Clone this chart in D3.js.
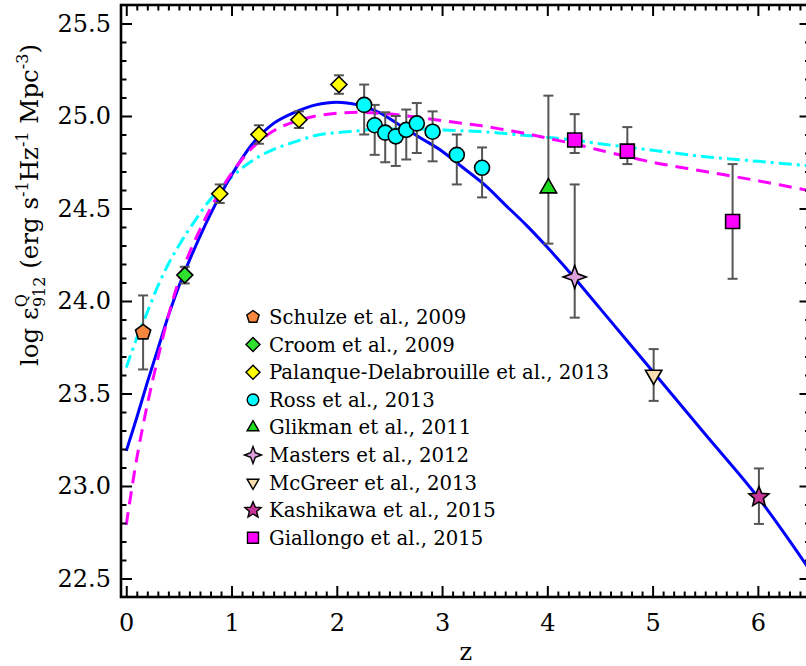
<!DOCTYPE html>
<html>
<head>
<meta charset="utf-8">
<script src="https://cdn.jsdelivr.net/npm/d3@7"></script>
<style>
body { margin: 0; background: #fff; }
svg { display: block; }
</style>
</head>
<body>
<script>
// values

// model curves, sampled on one z grid
var fitZ = [0, 0.1, 0.2, 0.3, 0.4, 0.5, 0.6, 0.8, 1.0, 1.2, 1.4, 1.6, 1.8, 2.0, 2.2, 2.4, 2.6, 2.8,
            3.0, 3.2, 3.4, 3.6, 3.8, 4.0, 4.25, 4.5, 5.0, 5.5, 6.0, 6.5];
var fitSolid = [23.19, 23.37, 23.56, 23.74, 23.92, 24.08, 24.22, 24.47, 24.68, 24.85, 24.96, 25.02, 25.06, 25.075, 25.06, 25.02, 24.95, 24.88,
                24.81, 24.72, 24.63, 24.52, 24.41, 24.29, 24.13, 23.96, 23.62, 23.28, 22.94, 22.54];
var fitDashed = [22.79, 23.15, 23.44, 23.69, 23.92, 24.11, 24.26, 24.50, 24.69, 24.83, 24.92, 24.97, 25.00, 25.015, 25.02, 25.015, 25.005, 24.99,
                 24.975, 24.96, 24.945, 24.925, 24.905, 24.88, 24.85, 24.815, 24.75, 24.70, 24.65, 24.595];
var fitDashDot = [23.64, 23.80, 23.94, 24.08, 24.20, 24.30, 24.39, 24.55, 24.67, 24.76, 24.82, 24.86, 24.895, 24.91, 24.92, 24.93, 24.93, 24.93,
                  24.925, 24.92, 24.915, 24.905, 24.895, 24.885, 24.87, 24.85, 24.815, 24.78, 24.755, 24.73];

// measurements: [z, value, error down, error up]
var schulze   = [[0.16, 23.83, 0.20, 0.20]];
var croom     = [[0.556, 24.14, 0.045, 0.045]];
var palanque  = [[0.888, 24.58, 0.05, 0.05], [1.26, 24.90, 0.05, 0.05], [1.64, 24.98, 0.045, 0.045], [2.02, 25.17, 0.05, 0.05]];
var ross      = [[2.26, 25.06, 0.16, 0.11], [2.36, 24.95, 0.16, 0.11], [2.46, 24.91, 0.16, 0.11], [2.56, 24.89, 0.16, 0.11],
                 [2.66, 24.925, 0.16, 0.11], [2.76, 24.96, 0.16, 0.11], [2.91, 24.915, 0.16, 0.11], [3.14, 24.79, 0.16, 0.11],
                 [3.38, 24.72, 0.16, 0.11]];
var glikman   = [[4.01, 24.61, 0.30, 0.50]];
var masters   = [[4.26, 24.13, 0.22, 0.50]];
var mcgreer   = [[5.01, 23.60, 0.14, 0.14]];
var kashikawa = [[6.01, 22.94, 0.145, 0.155]];
var giallongo = [[4.26, 24.87, 0.07, 0.14], [4.76, 24.81, 0.07, 0.13], [5.76, 24.43, 0.31, 0.31]];

var sourceNames = ["Schulze et al., 2009", "Croom et al., 2009", "Palanque-Delabrouille et al., 2013",
                   "Ross et al., 2013", "Glikman et al., 2011", "Masters et al., 2012",
                   "McGreer et al., 2013", "Kashikawa et al., 2015", "Giallongo et al., 2015"];
var sourceData = [schulze, croom, palanque, ross, glikman, masters, mcgreer, kashikawa, giallongo];

var xMajor = [0, 1, 2, 3, 4, 5, 6];
var yMajor = [22.5, 23.0, 23.5, 24.0, 24.5, 25.0, 25.5];

// styles
var shapes = ["pentagon", "diamond", "diamond", "circle", "triUp", "star4", "triDown", "star5", "square"];
var fills  = ["#F5873E", "#2FE02F", "#FFFF00", "#00FFFF", "#1EDC1E", "#DDA0DD", "#F8DDB0", "#C8369A", "#FF00FF"];
var sizeData   = [8, 8, 8, 7.5, 9.5, 11.5, 9.5, 10.5, 7];
var sizeLegend = [6.5, 7, 7, 5.8, 6.8, 8.5, 6.8, 8.5, 5.5];

var font = "'DejaVu Serif', 'Liberation Serif', serif";

var W = 806, H = 666;
var plot = {left: 121, right: 810.5, top: 5, bottom: 597};

var svg = d3.select("body").append("svg")
    .attr("width", W)
    .attr("height", H);

var x = d3.scaleLinear().domain([-0.05, 6.5]).range([plot.left, plot.right]);
var y = d3.scaleLinear().domain([22.4, 25.6]).range([plot.bottom, plot.top]);

svg.append("clipPath").attr("id", "clip")
    .append("rect")
    .attr("x", plot.left).attr("y", plot.top)
    .attr("width", plot.right - plot.left).attr("height", plot.bottom - plot.top);

// shape paths
function poly(n, r, a0) {
    var p = d3.path();
    for (var k = 0; k < n; k++) {
        var a = a0 + k * 2 * Math.PI / n;
        if (k == 0) p.moveTo(r * Math.cos(a), r * Math.sin(a));
        else p.lineTo(r * Math.cos(a), r * Math.sin(a));
    }
    p.closePath();
    return p.toString();
}
function star(n, ro, ri) {
    var p = d3.path();
    for (var k = 0; k < 2 * n; k++) {
        var r = k % 2 ? ri : ro;
        var a = -Math.PI / 2 + k * Math.PI / n;
        if (k == 0) p.moveTo(r * Math.cos(a), r * Math.sin(a));
        else p.lineTo(r * Math.cos(a), r * Math.sin(a));
    }
    p.closePath();
    return p.toString();
}
function shapePath(shape, r) {
    if (shape == "pentagon") return poly(5, r, -Math.PI / 2);
    if (shape == "diamond") return poly(4, r, -Math.PI / 2);
    if (shape == "square") return poly(4, r * Math.SQRT2, -Math.PI / 4);
    if (shape == "triUp") return poly(3, r, -Math.PI / 2);
    if (shape == "triDown") return poly(3, r, Math.PI / 2);
    if (shape == "star4") return star(4, r, r * 0.38);
    if (shape == "star5") return star(5, r, r * 0.45);
    var p = d3.path();
    p.arc(0, 0, r, 0, 2 * Math.PI);
    p.closePath();
    return p.toString();
}

// curves
var curveG = svg.append("g").attr("clip-path", "url(#clip)");
function fitLine(vals) {
    return d3.line()
        .x(function(d, i) { return x(fitZ[i]); })
        .y(function(d) { return y(d); })
        .curve(d3.curveCatmullRom)(vals);
}
curveG.append("path")
    .attr("d", fitLine(fitDashDot))
    .attr("fill", "none")
    .attr("stroke", "#00FFFF")
    .attr("stroke-width", 3)
    .attr("stroke-dasharray", "13,5,3,5");
curveG.append("path")
    .attr("d", fitLine(fitSolid))
    .attr("fill", "none")
    .attr("stroke", "#0000FF")
    .attr("stroke-width", 3);
curveG.append("path")
    .attr("d", fitLine(fitDashed))
    .attr("fill", "none")
    .attr("stroke", "#FF00FF")
    .attr("stroke-width", 3)
    .attr("stroke-dasharray", "13,8");

// error bars then symbols
var errG = svg.append("g");
var symG = svg.append("g");
sourceData.forEach(function(rows, i) {
    rows.forEach(function(d) {
        var cx = x(d[0]), yLo = y(d[1] - d[2]), yHi = y(d[1] + d[3]);
        errG.append("line")
            .attr("x1", cx).attr("x2", cx).attr("y1", yLo).attr("y2", yHi)
            .attr("stroke", "#555").attr("stroke-width", 2);
        [yLo, yHi].forEach(function(yy) {
            errG.append("line")
                .attr("x1", cx - 5).attr("x2", cx + 5).attr("y1", yy).attr("y2", yy)
                .attr("stroke", "#555").attr("stroke-width", 2);
        });
        symG.append("path")
            .attr("d", shapePath(shapes[i], sizeData[i]))
            .attr("transform", "translate(" + cx + "," + y(d[1]) + ")")
            .attr("fill", fills[i])
            .attr("stroke", "#000")
            .attr("stroke-width", 1.6);
    });
});

// legend
var legend = svg.append("g");
sourceNames.forEach(function(name, i) {
    var ly = 317 + i * 27.6;
    legend.append("path")
        .attr("d", shapePath(shapes[i], sizeLegend[i]))
        .attr("transform", "translate(253," + ly + ")")
        .attr("fill", fills[i])
        .attr("stroke", "#000")
        .attr("stroke-width", 1.4);
    legend.append("text")
        .attr("x", 269)
        .attr("y", ly + 7)
        .attr("font-family", font)
        .attr("font-size", "19.7px")
        .attr("fill", "#000")
        .text(name);
});

// axes
function styleAxis(g) {
    g.select(".domain").remove();
    g.selectAll(".tick line").attr("stroke", "#000").attr("stroke-width", 2);
    g.selectAll(".tick text").attr("font-family", font).attr("font-size", "24px").attr("fill", "#000");
}
function k10(v) { return Math.round(v * 10); }
var xMinor = d3.range(0, 65).map(function(k) { return k / 10; }).filter(function(v) { return k10(v) % 10 != 0; });
var yMinor = d3.range(225, 256).map(function(k) { return k / 10; }).filter(function(v) { return k10(v) % 5 != 0; });

svg.append("g").attr("transform", "translate(0," + plot.bottom + ")")
    .call(d3.axisBottom(x).tickValues(xMajor).tickSize(-11).tickPadding(17).tickFormat(d3.format("d")))
    .call(styleAxis);
svg.append("g").attr("transform", "translate(0," + plot.bottom + ")")
    .call(d3.axisBottom(x).tickValues(xMinor).tickSize(-5.5).tickFormat(""))
    .call(styleAxis);
svg.append("g").attr("transform", "translate(0," + plot.top + ")")
    .call(d3.axisTop(x).tickValues(xMajor).tickSize(-11).tickFormat(""))
    .call(styleAxis);
svg.append("g").attr("transform", "translate(0," + plot.top + ")")
    .call(d3.axisTop(x).tickValues(xMinor).tickSize(-5.5).tickFormat(""))
    .call(styleAxis);

svg.append("g").attr("transform", "translate(" + plot.left + ",0)")
    .call(d3.axisLeft(y).tickValues(yMajor).tickSize(-11).tickPadding(10).tickFormat(d3.format(".1f")))
    .call(styleAxis);
svg.append("g").attr("transform", "translate(" + plot.left + ",0)")
    .call(d3.axisLeft(y).tickValues(yMinor).tickSize(-5.5).tickFormat(""))
    .call(styleAxis);
svg.append("g").attr("transform", "translate(" + plot.right + ",0)")
    .call(d3.axisRight(y).tickValues(yMajor).tickSize(-11).tickFormat(""))
    .call(styleAxis);
svg.append("g").attr("transform", "translate(" + plot.right + ",0)")
    .call(d3.axisRight(y).tickValues(yMinor).tickSize(-5.5).tickFormat(""))
    .call(styleAxis);

svg.append("rect")
    .attr("x", plot.left).attr("y", plot.top)
    .attr("width", plot.right - plot.left).attr("height", plot.bottom - plot.top)
    .attr("fill", "none")
    .attr("stroke", "#000")
    .attr("stroke-width", 2.6);

// axis titles
svg.append("text")
    .attr("x", (plot.left + plot.right) / 2)
    .attr("y", 660)
    .attr("text-anchor", "middle")
    .attr("font-family", font)
    .attr("font-size", "24px")
    .text("z");

var yTitle = svg.append("text")
    .attr("transform", "translate(38,205) rotate(-90)")
    .attr("text-anchor", "middle")
    .attr("font-family", font)
    .attr("font-size", "24.5px");
yTitle.append("tspan").text("log  \u03b5");
yTitle.append("tspan").attr("font-size", "16px").attr("dy", -11).text("Q");
yTitle.append("tspan").attr("font-size", "16px").attr("dx", -13).attr("dy", 18).text("912");
yTitle.append("tspan").attr("dy", -7).text("  (erg s");
yTitle.append("tspan").attr("font-size", "16px").attr("dy", -10).text("-1");
yTitle.append("tspan").attr("dy", 10).text("Hz");
yTitle.append("tspan").attr("font-size", "16px").attr("dy", -10).text("-1");
yTitle.append("tspan").attr("dy", 10).text(" Mpc");
yTitle.append("tspan").attr("font-size", "16px").attr("dy", -10).text("-3");
yTitle.append("tspan").attr("dy", 10).text(")");
</script>
</body>
</html>
